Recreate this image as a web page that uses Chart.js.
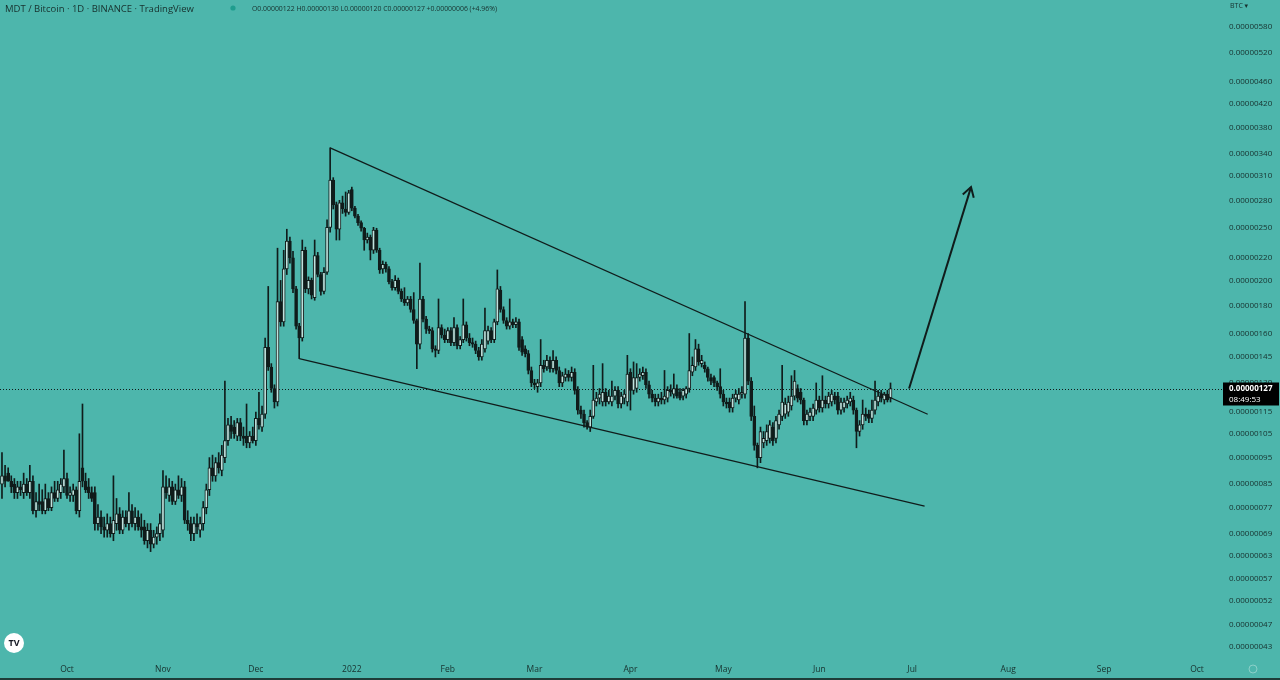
<!DOCTYPE html>
<html>
<head>
<meta charset="utf-8">
<script src="https://cdn.jsdelivr.net/npm/chart.js@4.4.1/dist/chart.umd.min.js"></script>
<style>
  html, body { margin: 0; padding: 0; background: #4db6ac; }
  canvas { display: block; }
</style>
</head>
<body>
<canvas id="chart" width="1280" height="680"></canvas>
<script>
// MDT / BTC daily candles, prices in satoshi (1e-8 BTC), first candle on startDate
const startDate = '2021-09-10';

const opens = [
  85, 88, 89, 86, 85, 82, 84, 82, 85, 82, 86, 76,
  79, 79, 76, 80, 77, 82, 80, 82, 84, 87, 81, 81,
  83, 76, 91, 86, 84, 82, 82, 72, 74, 71, 70, 72,
  69, 72, 75, 70, 74, 72, 76, 72, 74, 71, 71, 67,
  70, 66, 68, 69, 70, 84, 81, 84, 79, 83, 81, 84,
  73, 72, 69, 72, 70, 72, 77, 83, 91, 88, 93, 90,
  95, 102, 109, 108, 104, 110, 104, 104, 101, 104, 102, 112,
  108, 114, 151, 139, 127, 120, 183, 168, 210, 236, 220, 193,
  165, 157, 227, 193, 200, 186, 222, 205, 191, 207, 250, 305,
  275, 248, 277, 270, 266, 293, 271, 262, 255, 249, 237, 240,
  227, 247, 227, 210, 214, 210, 199, 194, 200, 191, 185, 182,
  185, 177, 169, 153, 185, 170, 163, 162, 150, 149, 164, 159,
  156, 162, 154, 164, 152, 156, 166, 157, 154, 153, 149, 145,
  150, 155, 162, 156, 168, 192, 177, 169, 165, 168, 166, 168,
  156, 150, 147, 137, 130, 128, 130, 140, 139, 143, 138, 143,
  137, 130, 133, 135, 133, 136, 126, 116, 114, 110, 108, 113,
  120, 122, 120, 125, 120, 120, 123, 126, 119, 122, 120, 136,
  126, 127, 133, 134, 136, 129, 124, 122, 120, 122, 121, 122,
  126, 124, 127, 125, 123, 124, 127, 136, 139, 150, 141, 140,
  138, 133, 133, 130, 128, 124, 120, 120, 117, 122, 121, 124,
  124, 157, 131, 113, 100, 95, 101, 102, 103, 108, 103, 109,
  113, 114, 115, 118, 123, 127, 125, 121, 111, 113, 113, 116,
  121, 117, 121, 119, 120, 123, 123, 116, 117, 119, 120, 121,
  116, 106, 109, 114, 114, 112, 116, 120, 124, 121, 124, 122
];
const highs = [
  97, 92, 91, 88, 87, 86, 86, 89, 87, 92, 88, 82,
  85, 83, 85, 82, 84, 86, 86, 87, 98, 89, 84, 85,
  84, 105, 119, 89, 87, 84, 84, 78, 76, 74, 75, 74,
  88, 80, 77, 76, 76, 82, 78, 77, 76, 75, 73, 72,
  72, 70, 71, 75, 90, 88, 87, 86, 85, 88, 87, 86,
  76, 74, 74, 75, 74, 79, 85, 95, 96, 95, 97, 100,
  131, 112, 113, 111, 112, 112, 108, 119, 106, 108, 115, 125,
  118, 157, 195, 141, 129, 229, 200, 227, 248, 240, 226, 195,
  167, 237, 230, 203, 202, 237, 225, 207, 211, 258, 349, 308,
  278, 280, 285, 290, 292, 296, 273, 264, 257, 250, 244, 242,
  250, 249, 229, 217, 216, 212, 201, 204, 202, 193, 194, 187,
  187, 190, 170, 215, 187, 172, 165, 164, 152, 185, 166, 163,
  164, 164, 171, 166, 158, 185, 168, 160, 157, 155, 151, 156,
  178, 165, 164, 170, 209, 195, 179, 171, 185, 170, 171, 170,
  158, 152, 149, 139, 132, 132, 156, 143, 146, 145, 149, 145,
  139, 136, 138, 137, 139, 138, 128, 118, 116, 111, 116, 140,
  125, 127, 141, 127, 126, 131, 128, 128, 125, 126, 146, 138,
  142, 141, 138, 139, 138, 131, 126, 124, 124, 125, 137, 128,
  129, 135, 129, 127, 127, 128, 160, 145, 156, 153, 146, 142,
  139, 135, 134, 131, 138, 126, 122, 122, 124, 126, 127, 128,
  183, 160, 133, 118, 101, 108, 106, 109, 111, 110, 113, 116,
  140, 122, 123, 134, 137, 129, 127, 122, 116, 117, 119, 130,
  123, 134, 123, 125, 126, 125, 125, 122, 122, 123, 125, 123,
  117, 111, 121, 117, 116, 121, 131, 126, 126, 125, 126, 130
];
const lows = [
  80, 84, 86, 82, 80, 80, 81, 80, 81, 80, 75, 74,
  76, 75, 75, 76, 76, 79, 79, 80, 82, 80, 79, 79,
  75, 74, 84, 82, 80, 79, 70, 70, 69, 68, 68, 68,
  67, 70, 69, 69, 71, 70, 71, 70, 70, 68, 66, 65,
  64, 65, 66, 67, 68, 80, 79, 78, 78, 80, 79, 72,
  70, 67, 67, 69, 68, 70, 75, 81, 86, 86, 89, 88,
  93, 100, 103, 103, 102, 102, 100, 99, 99, 101, 100, 107,
  106, 112, 137, 125, 117, 118, 165, 165, 205, 215, 190, 163,
  144, 155, 190, 189, 185, 184, 203, 188, 189, 205, 245, 270,
  237, 237, 265, 262, 264, 268, 260, 252, 246, 227, 234, 218,
  224, 225, 206, 206, 207, 197, 192, 192, 189, 183, 180, 180,
  175, 167, 138, 150, 168, 160, 160, 148, 145, 147, 157, 154,
  154, 152, 152, 150, 150, 154, 155, 152, 151, 147, 143, 143,
  148, 153, 154, 154, 166, 175, 167, 163, 163, 164, 164, 149,
  146, 145, 135, 128, 127, 125, 128, 136, 137, 136, 136, 135,
  128, 128, 131, 131, 131, 124, 114, 112, 108, 107, 106, 112,
  118, 119, 118, 118, 119, 118, 121, 117, 117, 119, 118, 116,
  124, 125, 131, 132, 127, 122, 120, 118, 118, 119, 119, 120,
  123, 122, 122, 121, 121, 122, 125, 134, 137, 140, 139, 136,
  131, 129, 128, 126, 122, 118, 117, 115, 115, 120, 119, 122,
  122, 129, 111, 98, 91, 93, 99, 100, 101, 100, 101, 107,
  111, 112, 113, 116, 121, 120, 119, 109, 109, 111, 111, 114,
  115, 115, 117, 117, 118, 119, 114, 114, 115, 117, 118, 114,
  99, 104, 107, 111, 110, 110, 114, 118, 120, 119, 120, 120
];
const closes = [
  88, 86, 86, 84, 82, 84, 83, 85, 82, 86, 76, 79,
  78, 76, 80, 77, 82, 80, 83, 85, 87, 81, 82, 83,
  76, 86, 86, 83, 82, 80, 72, 74, 71, 70, 72, 69,
  73, 75, 70, 74, 72, 76, 72, 74, 71, 70, 67, 70,
  66, 68, 69, 72, 84, 82, 84, 79, 83, 81, 84, 73,
  72, 69, 72, 71, 72, 77, 83, 91, 88, 93, 91, 96,
  102, 109, 106, 105, 110, 104, 103, 101, 104, 102, 112, 109,
  114, 151, 139, 127, 120, 183, 168, 210, 236, 220, 193, 165,
  157, 227, 193, 200, 188, 222, 205, 191, 207, 250, 305, 275,
  248, 277, 270, 266, 289, 271, 262, 255, 249, 237, 240, 227,
  247, 227, 209, 214, 210, 199, 194, 200, 191, 185, 182, 185,
  177, 169, 153, 185, 170, 163, 162, 150, 149, 164, 159, 156,
  162, 154, 164, 152, 156, 166, 157, 154, 153, 149, 145, 153,
  162, 162, 156, 168, 193, 177, 169, 165, 168, 166, 168, 151,
  148, 147, 137, 130, 129, 130, 140, 138, 143, 138, 143, 137,
  130, 134, 135, 133, 136, 126, 116, 114, 110, 108, 113, 121,
  122, 124, 125, 120, 123, 123, 126, 119, 123, 124, 135, 126,
  133, 133, 135, 136, 129, 124, 122, 120, 122, 121, 123, 126,
  125, 127, 123, 122, 126, 127, 137, 140, 150, 142, 143, 138,
  133, 131, 130, 128, 124, 120, 119, 117, 122, 124, 124, 125,
  157, 131, 113, 100, 95, 106, 103, 106, 109, 102, 111, 114,
  120, 119, 120, 123, 131, 122, 121, 111, 114, 115, 117, 121,
  117, 121, 119, 123, 124, 121, 116, 120, 120, 121, 122, 116,
  106, 109, 114, 113, 112, 116, 121, 123, 122, 124, 121, 127
];

// right axis labels (satoshi) and bottom axis months
const priceTicks = [580, 520, 460, 420, 380, 340, 310, 280, 250, 220, 200, 180, 160,
  145, 130, 115, 105, 95, 85, 77, 69, 63, 57, 52, 47, 43];
const monthTicks = ['2021-10-01', '2021-11-01', '2021-12-01', '2022-01-01', '2022-02-01',
  '2022-03-01', '2022-04-01', '2022-05-01', '2022-06-01', '2022-07-01', '2022-08-01',
  '2022-09-01', '2022-10-01'];
const monthLabels = ['Oct', 'Nov', 'Dec', '2022', 'Feb', 'Mar', 'Apr', 'May', 'Jun',
  'Jul', 'Aug', 'Sep', 'Oct'];

// drawn wedge and target arrow: [date, price]
const upperTrend = [['2021-12-25', 349], ['2022-07-06', 114]];
const lowerTrend = [['2021-12-15', 144], ['2022-07-05', 77.5]];
const targetArrow = [['2022-06-30', 127], ['2022-07-20', 296]];

const headerTitle = 'MDT / Bitcoin · 1D · BINANCE · TradingView';
const countdown = '08:49:53';

const bg = '#4db6ac';
const ink = '#101c1b';
const upFill = '#bfe2dd';
const textColor = '#17302d';
const fontFamily = '"Open Sans", "DejaVu Sans", sans-serif';

const DAY = 86400000;
const origin = Date.UTC(2021, 9, 1);
const dayOf = (s) => Math.round((Date.parse(s + 'T00:00:00Z') - origin) / DAY);
const sat = (v) => (v / 1e8).toFixed(8);

const first = dayOf(startDate);
const days = closes.map((_, i) => first + i);
const monthDays = monthTicks.map(dayOf);
const last = closes.length - 1;

const backgroundPlugin = {
  id: 'background',
  beforeDraw(chart) {
    const ctx = chart.ctx;
    ctx.save();
    ctx.fillStyle = bg;
    ctx.fillRect(0, 0, chart.width, chart.height);
    ctx.restore();
  },
  beforeDatasetsDraw(chart) {
    // dotted last-price line
    const { ctx, chartArea } = chart;
    const y = chart.scales.y.getPixelForValue(closes[last]);
    ctx.save();
    ctx.strokeStyle = ink;
    ctx.lineWidth = 1;
    ctx.setLineDash([1, 2]);
    ctx.beginPath();
    ctx.moveTo(chartArea.left, Math.round(y) + 0.5);
    ctx.lineTo(chartArea.right, Math.round(y) + 0.5);
    ctx.stroke();
    ctx.restore();
  }
};

const drawingsPlugin = {
  id: 'drawings',
  afterDatasetsDraw(chart) {
    const { ctx } = chart;
    const xs = chart.scales.x, ys = chart.scales.y;
    const pt = ([d, v]) => [xs.getPixelForValue(dayOf(d)), ys.getPixelForValue(v)];

    ctx.save();
    ctx.strokeStyle = ink;
    ctx.lineWidth = 1.2;
    [upperTrend, lowerTrend].forEach((line) => {
      const a = pt(line[0]), b = pt(line[1]);
      ctx.beginPath();
      ctx.moveTo(a[0], a[1]);
      ctx.lineTo(b[0], b[1]);
      ctx.stroke();
    });

    const a = pt(targetArrow[0]), b = pt(targetArrow[1]);
    ctx.lineWidth = 2;
    ctx.beginPath();
    ctx.moveTo(a[0], a[1]);
    ctx.lineTo(b[0], b[1]);
    ctx.stroke();
    const ang = Math.atan2(b[1] - a[1], b[0] - a[0]);
    const head = 11;
    ctx.beginPath();
    ctx.moveTo(b[0] - head * Math.cos(ang - 0.55), b[1] - head * Math.sin(ang - 0.55));
    ctx.lineTo(b[0], b[1]);
    ctx.lineTo(b[0] - head * Math.cos(ang + 0.55), b[1] - head * Math.sin(ang + 0.55));
    ctx.stroke();
    ctx.restore();
  },
  afterDraw(chart) {
    const { ctx, chartArea } = chart;
    ctx.save();

    // header
    ctx.fillStyle = textColor;
    ctx.textBaseline = 'middle';
    ctx.font = '9.5px ' + fontFamily;
    ctx.fillText(headerTitle, 5, 9);
    ctx.fillStyle = '#1f9d8e';
    ctx.beginPath();
    ctx.arc(233, 8, 2.6, 0, Math.PI * 2);
    ctx.fill();
    const o = opens[last], h = highs[last], l = lows[last], c = closes[last];
    const prev = closes[last - 1];
    const chg = c - prev;
    const pct = (chg / prev * 100).toFixed(2);
    const ohlc = 'O' + sat(o) + ' H' + sat(h) + ' L' + sat(l) + ' C' + sat(c) +
      ' ' + (chg >= 0 ? '+' : '') + sat(chg) + ' (' + (chg >= 0 ? '+' : '') + pct + '%)';
    ctx.fillStyle = textColor;
    ctx.font = '6.9px ' + fontFamily;
    ctx.fillText(ohlc, 252, 9);

    // currency selector
    ctx.font = '7px ' + fontFamily;
    ctx.fillText('BTC ▾', 1230, 6);

    // last price badge
    const y = chart.scales.y.getPixelForValue(c);
    ctx.fillStyle = '#000';
    ctx.fillRect(chartArea.right + 1, y - 6, 56, 23);
    ctx.fillStyle = '#fff';
    ctx.font = 'bold 8px ' + fontFamily;
    ctx.fillText(sat(c), chartArea.right + 7, y);
    ctx.font = '8px ' + fontFamily;
    ctx.fillText(countdown, chartArea.right + 7, y + 11);

    // logo
    ctx.fillStyle = '#fff';
    ctx.beginPath();
    ctx.arc(14, 643, 10, 0, Math.PI * 2);
    ctx.fill();
    ctx.fillStyle = '#131722';
    ctx.font = 'bold 9px ' + fontFamily;
    ctx.textAlign = 'center';
    ctx.fillText('TV', 14, 643);

    // settings gear
    ctx.strokeStyle = 'rgba(255,255,255,0.35)';
    ctx.lineWidth = 1;
    ctx.beginPath();
    ctx.arc(1253, 669, 4, 0, Math.PI * 2);
    ctx.stroke();

    // bottom border
    ctx.fillStyle = '#1e3d39';
    ctx.fillRect(0, 678, chart.width, 2);
    ctx.restore();
  }
};

Chart.defaults.font.family = fontFamily;
Chart.defaults.color = textColor;

new Chart(document.getElementById('chart'), {
  type: 'bar',
  data: {
    datasets: [
      {
        label: 'High-Low',
        data: days.map((d, i) => ({ x: d, y: [lows[i], highs[i]] })),
        backgroundColor: ink,
        barThickness: 1,
        grouped: false,
        order: 2
      },
      {
        label: 'Open-Close',
        data: days.map((d, i) => ({ x: d, y: [opens[i], closes[i]] })),
        backgroundColor: days.map((_, i) => closes[i] >= opens[i] ? upFill : ink),
        borderColor: ink,
        borderWidth: 1,
        borderSkipped: false,
        barThickness: 3,
        grouped: false,
        order: 1
      }
    ]
  },
  options: {
    responsive: false,
    animation: false,
    devicePixelRatio: 1,
    layout: { padding: 0 },
    plugins: {
      legend: { display: false },
      tooltip: { enabled: false }
    },
    scales: {
      x: {
        type: 'linear',
        min: -21.64,
        max: 373.07,
        bounds: 'data',
        offset: false,
        grid: { display: false, drawTicks: false },
        border: { display: false },
        afterBuildTicks: (scale) => {
          scale.ticks = monthDays.map((d) => ({ value: d }));
        },
        afterFit: (scale) => {
          scale.height = 22;
          scale.paddingLeft = 0;
          scale.paddingRight = 0;
        },
        ticks: {
          autoSkip: false,
          maxRotation: 0,
          padding: 6,
          color: textColor,
          font: { size: 8.5 },
          callback: (value) => monthLabels[monthDays.indexOf(value)]
        }
      },
      y: {
        type: 'logarithmic',
        position: 'right',
        min: 40.93,
        max: 649.7,
        bounds: 'data',
        grid: { display: false, drawTicks: false },
        border: { display: false },
        afterBuildTicks: (scale) => {
          scale.ticks = priceTicks.map((v) => ({ value: v }));
        },
        afterFit: (scale) => {
          scale.width = 58;
          scale.paddingTop = 0;
          scale.paddingBottom = 0;
        },
        ticks: {
          autoSkip: false,
          padding: 7,
          color: textColor,
          font: { size: 8 },
          callback: (value) => sat(value)
        }
      }
    }
  },
  plugins: [backgroundPlugin, drawingsPlugin]
});
</script>
</body>
</html>
